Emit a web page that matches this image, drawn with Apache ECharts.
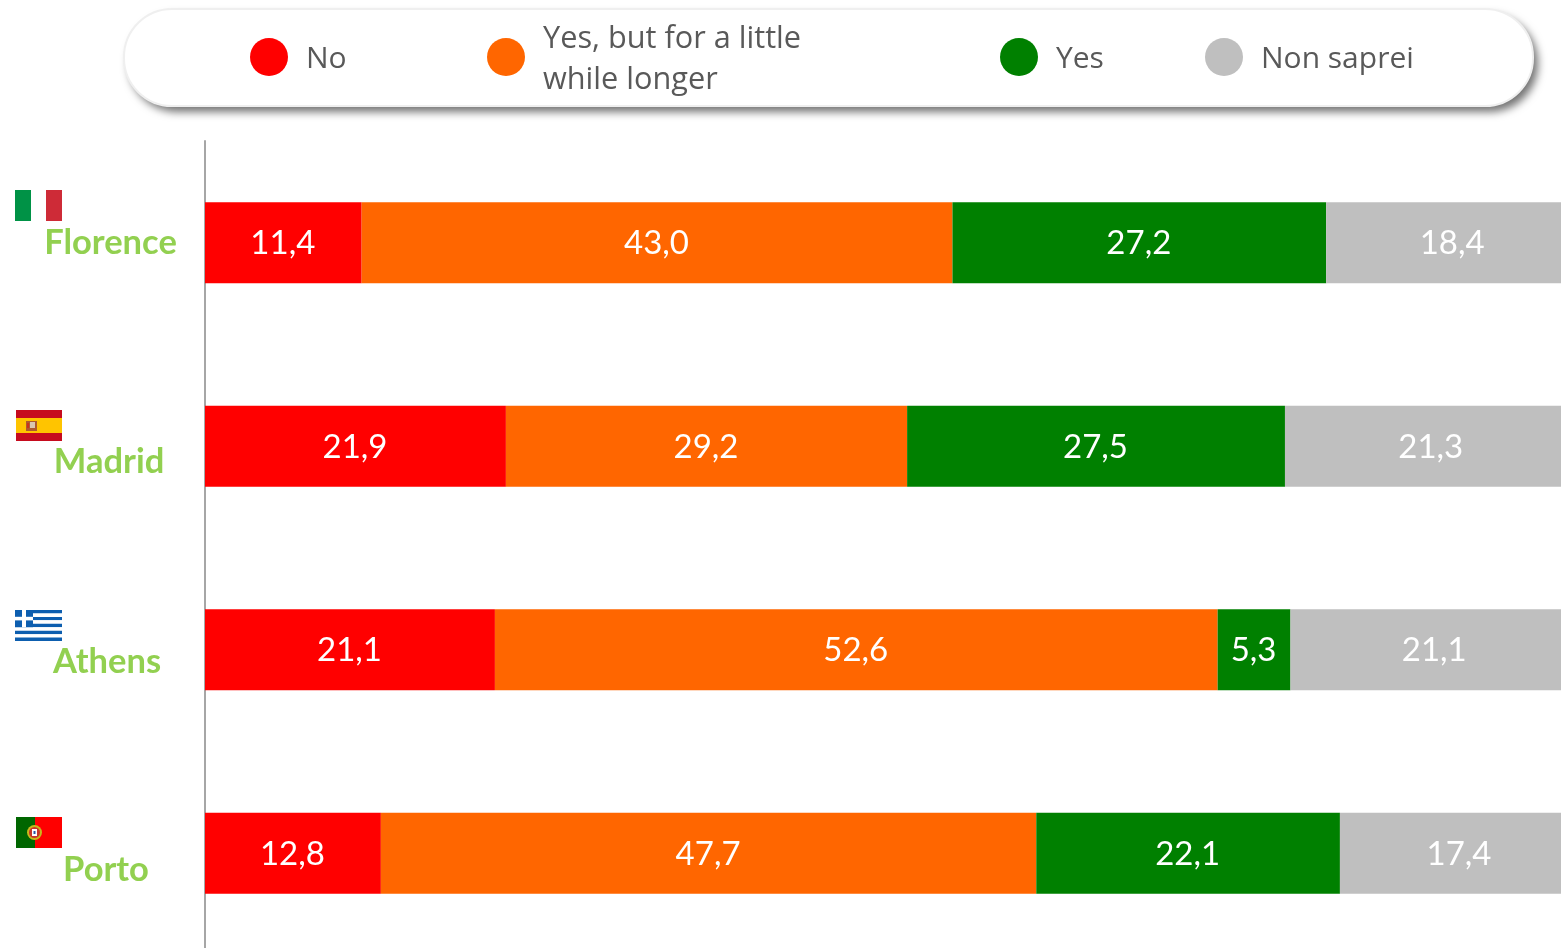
<!DOCTYPE html>
<html>
<head>
<meta charset="utf-8">
<title>Chart</title>
<script src="https://cdn.jsdelivr.net/npm/echarts@6/dist/echarts.min.js"></script>
<style>
  html, body { margin: 0; padding: 0; background: #fff; overflow: hidden; }
  #chart { width: 1561px; height: 948px; }
</style>
</head>
<body>
<div id="chart"></div>
<script>
const cities = ['Florence', 'Madrid', 'Athens', 'Porto'];
const noValues = [11.4, 21.9, 21.1, 12.8];
const littleLongerValues = [43.0, 29.2, 52.6, 47.7];
const yesValues = [27.2, 27.5, 5.3, 22.1];
const dontKnowValues = [18.4, 21.3, 21.1, 17.4];

const seriesNames = ['No', 'Yes, but for a little while longer', 'Yes', 'Non saprei'];
const seriesColors = ['#FF0000', '#FF6600', '#008000', '#BFBFBF'];
const seriesValues = [noValues, littleLongerValues, yesValues, dontKnowValues];

// where the city names sit next to their flags
const cityLabelX = [110.5, 109, 107, 106];
const cityLabelDy = [0, 15.5, 12, 16.5];
const legendLeft = [250, 487, 1000, 1205];

// legend circle, the empty move at the end lifts it a little above the text's middle
const legendIcon = 'path://M0 19A19 19 0 1 1 38 19A19 19 0 1 1 0 19ZM19 43L19 43';

const chart = echarts.init(document.getElementById('chart'));

function rect(x, y, w, h, fill) {
  return { type: 'rect', shape: { x: x, y: y, width: w, height: h }, style: { fill: fill }, silent: true };
}

function circle(cx, cy, r, fill) {
  return { type: 'circle', shape: { cx: cx, cy: cy, r: r }, style: { fill: fill }, silent: true };
}

function flags() {
  const out = [];
  // Italy
  out.push(rect(15, 190, 16, 31, '#009246'), rect(46, 190, 16, 31, '#CE2B37'));
  // Spain
  out.push(rect(16, 410, 46, 31, '#C60B1E'), rect(16, 418, 46, 15, '#FFC400'));
  out.push(rect(26, 421, 11, 10, '#AD5B2E'), rect(30, 422, 5, 6, '#D9C8B0'), rect(27, 423, 2, 5, '#C8321E'));
  // Greece
  for (let i = 0; i < 9; i++) {
    out.push(rect(15, 610 + i * 3.45, 47, 3.45, i % 2 ? '#FFFFFF' : '#0D5EAF'));
  }
  out.push(rect(15, 610, 18, 17.2, '#0D5EAF'), rect(22, 610, 4, 17.2, '#FFFFFF'), rect(15, 616.8, 18, 3.6, '#FFFFFF'));
  // Portugal
  out.push(rect(16, 817, 19, 31, '#006600'), rect(35, 817, 27, 31, '#FF0000'));
  out.push(circle(34.5, 832.5, 7.5, '#C9B81C'), circle(34.5, 832.5, 5.5, '#C8352A'), rect(32, 829, 5, 7, '#FFFFFF'), rect(33.5, 831, 2, 3, '#2A55A5'));
  return out;
}

const option = {
  animation: false,
  backgroundColor: '#FFFFFF',
  textStyle: { fontFamily: 'Lato' },
  grid: { left: 205, top: 141, width: 1374, height: 814, outerBoundsMode: 'none' },
  xAxis: { type: 'value', min: 0, max: 100, show: false },
  yAxis: {
    type: 'category',
    inverse: true,
    data: cities,
    axisLine: { lineStyle: { color: '#A6A6A6', width: 2 } },
    axisTick: { show: false },
    axisLabel: { show: false }
  },
  legend: seriesNames.map(function (name, i) {
    return {
      data: [name],
      left: legendLeft[i],
      top: i === 1 ? 18.5 : 38,
      orient: 'horizontal',
      padding: 0,
      icon: legendIcon,
      itemWidth: 38,
      itemHeight: 43,
      itemGap: 0,
      selectedMode: false,
      formatter: function (n) {
        return n === seriesNames[1] ? 'Yes, but for a little\nwhile longer' : n;
      },
      textStyle: {
        color: '#595959',
        fontFamily: 'Open Sans',
        fontSize: i === 1 ? 30.7 : 30,
        lineHeight: 41,
        padding: [0, 0, 0, 13]
      }
    };
  }),
  series: seriesNames.map(function (name, i) {
    return {
      name: name,
      type: 'bar',
      stack: 'total',
      barWidth: 81,
      data: seriesValues[i],
      itemStyle: { color: seriesColors[i] },
      label: {
        show: true,
        position: 'inside',
        offset: [-0.5, 1],
        color: '#FFFFFF',
        fontFamily: 'Lato',
        fontSize: 33,
        formatter: function (p) { return p.value.toFixed(1).replace('.', ','); }
      }
    };
  })
};
chart.setOption(option);

const graphics = [
  {
    type: 'rect',
    shape: { x: 124, y: 9, width: 1409, height: 97, r: 48 },
    style: { fill: '#FFFFFF', shadowColor: 'rgba(0,0,0,0.55)', shadowBlur: 8, shadowOffsetX: 5, shadowOffsetY: 6 },
    silent: true,
    z: -2
  },
  {
    type: 'rect',
    shape: { x: 124, y: 9, width: 1409, height: 97, r: 48 },
    style: { fill: '#FFFFFF', stroke: '#EFEFEF', lineWidth: 2 },
    silent: true,
    z: -1
  }
].concat(flags());

cities.forEach(function (city, i) {
  graphics.push({
    type: 'text',
    x: cityLabelX[i],
    y: chart.convertToPixel({ yAxisIndex: 0 }, city) + cityLabelDy[i],
    silent: true,
    style: {
      text: city,
      fill: '#92D050',
      font: 'bold 34.5px Lato',
      align: 'center',
      verticalAlign: 'middle'
    }
  });
});

chart.setOption({ graphic: graphics });
</script>
</body>
</html>
